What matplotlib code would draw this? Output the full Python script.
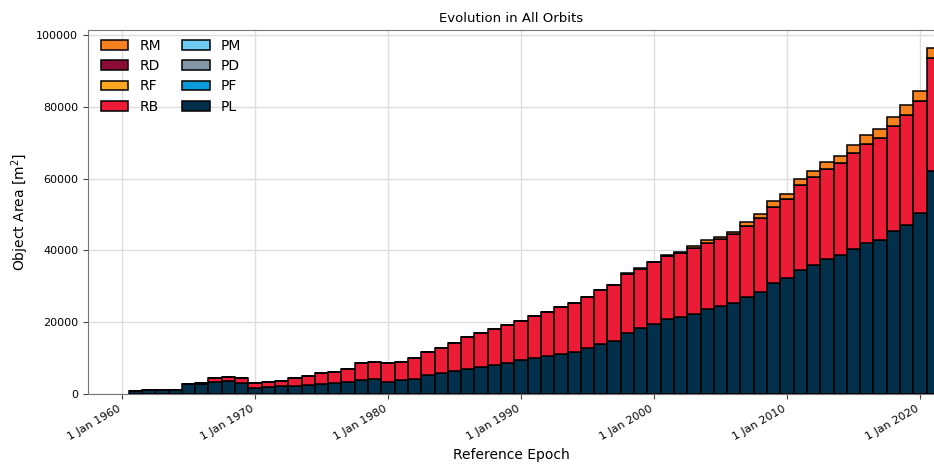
import matplotlib
matplotlib.use('Agg')
import matplotlib.pyplot as plt
import numpy as np

# Years (bars centred on 1 Jan of each year)
years = np.arange(1961, 2022)

# cumulative object area per class [m^2]
PL = [800, 1000, 1100, 1100, 2700, 2700, 3400, 3700, 3000, 1700,
      1850, 2150, 2300, 2600, 2800, 3050, 3250, 3900, 4250, 3400,
      3800, 4200, 5300, 5850, 6500, 7050, 7600, 8100, 8650, 9450,
      10000, 10600, 11200, 11700, 12800, 13900, 14850, 17050, 18400, 19450,
      20950, 21350, 22350, 23750, 24500, 25450, 27000, 28300, 30800, 32200,
      34600, 35950, 37700, 38700, 40450, 42150, 42950, 45300, 47150, 50500,
      62200]
RB = [0, 0, 0, 0, 100, 500, 1000, 1100, 1450, 1300,
      1400, 1550, 2050, 2500, 2950, 3050, 3650, 4650, 4750, 5150,
      5100, 5900, 6400, 7050, 7700, 8900, 9450, 10100, 10550, 10850,
      11800, 12150, 12950, 13550, 14300, 15000, 15400, 16350, 16500, 17200,
      17550, 17900, 18450, 18350, 18650, 19000, 19800, 20600, 21350, 22050,
      23650, 24500, 25000, 25600, 26650, 27600, 28250, 29250, 30550, 31000,
      31400]
RF = [0] * len(years)
RD = [0] * len(years)
RM = [0] * 36 + [0, 200, 200, 200,
                 300, 300, 300, 700, 650, 650, 1000, 1200, 1500, 1550,
                 1750, 1750, 2000, 2050, 2150, 2400, 2500, 2600, 2700, 2800,
                 2700]
PM = [0] * len(years)
PD = [0] * len(years)
PF = [0] * len(years)

tick_years = [1960, 1970, 1980, 1990, 2000, 2010, 2020]
tick_labels = ["1 Jan %d" % y for y in tick_years]

series = [  # bottom to top
    ("PL", PL, "#02304a"),
    ("PF", PF, "#0a9bdc"),
    ("PD", PD, "#8497a6"),
    ("PM", PM, "#6ecbf3"),
    ("RB", RB, "#ed1c36"),
    ("RF", RF, "#fda71e"),
    ("RD", RD, "#8d0c36"),
    ("RM", RM, "#f5821f"),
]

fig = plt.figure(figsize=(9.34, 4.66), dpi=100)
ax = fig.add_axes([88 / 934, 72 / 466, 846 / 934, 364 / 466])

bottom = np.zeros(len(years))
handles = {}
for name, vals, col in series:
    vals = np.array(vals, dtype=float)
    h = ax.bar(years, vals, width=1.0, bottom=bottom, color=col,
               edgecolor="black", linewidth=1.1, zorder=3, label=name)
    handles[name] = h
    bottom = bottom + vals

order = ["RM", "RD", "RF", "RB", "PM", "PD", "PF", "PL"]
ax.legend([handles[n] for n in order], order, ncol=2, loc="upper left",
          bbox_to_anchor=(0.0, 1.01), frameon=False, fontsize=10,
          handlelength=2.0, columnspacing=1.5, labelspacing=0.45)

ax.set_xlim(1957.44, 2021.05)
ax.set_ylim(0, 101400)
ax.set_xticks(tick_years)
ax.set_xticklabels(tick_labels, rotation=30, ha="right", fontsize=8)
ax.tick_params(axis="y", labelsize=8)
ax.tick_params(colors="#444444", labelcolor="black")
ax.grid(True, color="#dddddd", linewidth=1, zorder=0)
ax.set_axisbelow(True)
for s in ax.spines.values():
    s.set_color("#777777")
ax.spines["right"].set_visible(False)

ax.set_title("Evolution in All Orbits", fontsize=9.5)
ax.set_xlabel("Reference Epoch", fontsize=10)
ax.set_ylabel("Object Area [m$^2$]", fontsize=10)

fig.savefig("out.png", dpi=100)
